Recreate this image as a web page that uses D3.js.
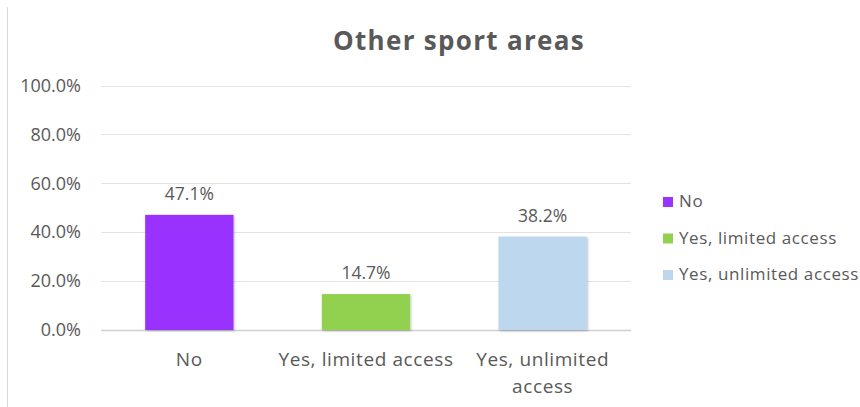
<!DOCTYPE html>
<html>
<head>
<meta charset="utf-8">
<script src="https://cdn.jsdelivr.net/npm/d3@7"></script>
<style>
  html, body { margin: 0; padding: 0; background: #fff; }
  svg { display: block; font-family: "Open Sans", Lato, sans-serif; }
</style>
</head>
<body>
<svg id="chart" width="860" height="407"></svg>
<script>
// Survey answers for other sport areas
const categories = ["No", "Yes, limited access", "Yes, unlimited access"];
const categoryLines = [["No"], ["Yes, limited access"], ["Yes, unlimited", "access"]];
const values = [0.471, 0.147, 0.382];
const colors = ["#9933FF", "#92D050", "#BDD7EE"];
const yTicks = [0, 0.2, 0.4, 0.6, 0.8, 1.0];
const title = "Other sport areas";

const svg = d3.select("#chart");
const textColor = "#595959";
const fontFamily = "'Open Sans', Lato, sans-serif";

const margin = { left: 101, right: 229, top: 85.5, bottom: 77 };
const width = 860, height = 407;

const x = d3.scaleBand()
  .domain(categories)
  .range([margin.left, width - margin.right])
  .paddingInner(0.5)
  .paddingOuter(0.25);

const y = d3.scaleLinear()
  .domain([0, 1])
  .range([height - margin.bottom, margin.top]);

// Chart area frame (left edge visible)
svg.append("line")
  .attr("x1", 7.5).attr("x2", 7.5)
  .attr("y1", 7).attr("y2", height)
  .attr("stroke", "#d9d9d9").attr("stroke-width", 1);

// Title
svg.append("text")
  .attr("x", 459).attr("y", 50)
  .attr("text-anchor", "middle")
  .attr("font-size", 26)
  .attr("letter-spacing", 1.3)
  .attr("font-weight", "bold")
  .attr("fill", textColor)
  .text(title);

// Gridlines
svg.append("g")
  .selectAll("line")
  .data(yTicks)
  .join("line")
  .attr("x1", margin.left).attr("x2", width - margin.right)
  .attr("y1", d => Math.round(y(d)) + 0.5)
  .attr("y2", d => Math.round(y(d)) + 0.5)
  .attr("stroke", d => d === 0 ? "#d0d0d0" : "#e3e3e3")
  .attr("stroke-width", d => d === 0 ? 1.5 : 1);

// Y axis labels
const yAxis = d3.axisLeft(y)
  .tickValues(yTicks)
  .tickFormat(d3.format(".1%"))
  .tickSize(0)
  .tickPadding(0);

svg.append("g")
  .attr("transform", "translate(81,0)")
  .call(yAxis)
  .call(g => g.select(".domain").remove())
  .call(g => g.selectAll("text")
    .attr("font-size", 18)
    .attr("font-family", fontFamily)
    .attr("fill", textColor));

// Soft shadow under bars
const defs = svg.append("defs");
const filter = defs.append("filter").attr("id", "shadow")
  .attr("x", "-10%").attr("y", "-10%").attr("width", "130%").attr("height", "130%");
filter.append("feDropShadow")
  .attr("dx", 1).attr("dy", 1).attr("stdDeviation", 1.2)
  .attr("flood-color", "#000").attr("flood-opacity", 0.25);

// Bars
svg.append("g")
  .selectAll("rect")
  .data(values)
  .join("rect")
  .attr("x", (d, i) => x(categories[i]))
  .attr("width", x.bandwidth())
  .attr("y", d => y(d))
  .attr("height", d => y(0) - y(d))
  .attr("fill", (d, i) => colors[i])
  .attr("filter", "url(#shadow)");

// Value labels
svg.append("g")
  .selectAll("text")
  .data(values)
  .join("text")
  .attr("x", (d, i) => x(categories[i]) + x.bandwidth() / 2)
  .attr("y", d => y(d) - 15)
  .attr("text-anchor", "middle")
  .attr("font-size", 17.5)
  .attr("fill", textColor)
  .text(d => d3.format(".1%")(d));

// Category labels
const catG = svg.append("g");
categoryLines.forEach((lines, i) => {
  const t = catG.append("text")
    .attr("x", x(categories[i]) + x.bandwidth() / 2)
    .attr("y", 366)
    .attr("text-anchor", "middle")
    .attr("font-size", 19)
    .attr("letter-spacing", 0.6)
    .attr("fill", textColor);
  lines.forEach((ln, j) => {
    t.append("tspan")
      .attr("x", x(categories[i]) + x.bandwidth() / 2)
      .attr("dy", j === 0 ? 0 : 27)
      .text(ln);
  });
});

// Legend
const legend = svg.append("g").attr("transform", "translate(663,0)");
const legendY = [202, 238.5, 275];
categories.forEach((c, i) => {
  legend.append("rect")
    .attr("x", 0).attr("y", legendY[i] - 5)
    .attr("width", 10).attr("height", 10)
    .attr("fill", colors[i]);
  legend.append("text")
    .attr("x", 16).attr("y", legendY[i] + 5)
    .attr("font-size", 17)
    .attr("letter-spacing", 0.6)
    .attr("fill", textColor)
    .text(c);
});
</script>
</body>
</html>
